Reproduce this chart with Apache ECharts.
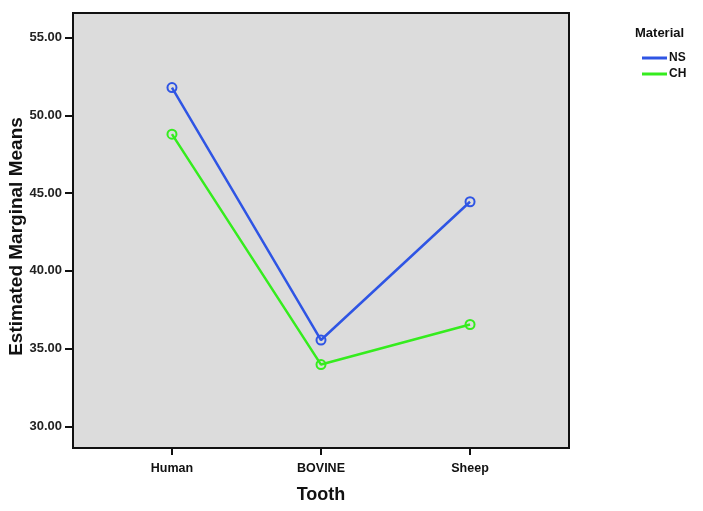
<!DOCTYPE html>
<html>
<head>
<meta charset="utf-8">
<script src="https://cdn.jsdelivr.net/npm/echarts@6/dist/echarts.min.js"></script>
<style>html,body{margin:0;padding:0;background:#fff}#c{width:703px;height:511px}</style>
</head>
<body>
<div id="c"></div>
<script>
const categories = ['Human', 'BOVINE', 'Sheep'];
const nsValues = [51.8, 35.55, 44.45];
const chValues = [48.8, 33.97, 36.55];
const yTicks = [30, 35, 40, 45, 50, 55];
const seriesNames = ['NS', 'CH'];
const legendTitle = 'Material';
const xTitle = 'Tooth';
const yTitle = 'Estimated Marginal Means';

const colors = ['#2f55e4', '#35ec1e'];
const toPts = arr => arr.map((v, i) => [i + 1, v]);
const font = 'Liberation Sans, Arial, sans-serif';

const chart = echarts.init(document.getElementById('c'), null, {renderer: 'canvas'});
chart.setOption({
  animation: false,
  backgroundColor: '#fff',
  title: {
    text: legendTitle, left: 630, top: 22,
    textStyle: {fontFamily: font, fontSize: 13, fontWeight: 'bold', color: '#111'}
  },
  legend: {
    data: seriesNames.map((n, i) => ({name: n, itemStyle: {color: colors[i], borderWidth: 0}})),
    orient: 'vertical', left: 637, top: 47,
    icon: 'rect', itemWidth: 25, itemHeight: 3, itemGap: 4,
    textStyle: {fontFamily: font, fontSize: 12, fontWeight: 'bold', color: '#111', padding: [0, 0, 0, -3]}
  },
  grid: {
    left: 73, right: 134, top: 13, bottom: 63,
    outerBoundsMode: 'none', containLabel: false,
    show: true, backgroundColor: '#dcdcdc', borderColor: '#111', borderWidth: 2
  },
  xAxis: {
    type: 'value', min: 0.336, max: 3.664,
    name: xTitle, nameLocation: 'middle', nameGap: 38, nameMoveOverlap: false,
    nameTextStyle: {fontFamily: font, fontSize: 18, fontWeight: 'bold', color: '#111'},
    axisLine: {show: true, lineStyle: {color: '#111', width: 2}},
    axisTick: {show: true, length: 7, lineStyle: {color: '#111', width: 2}, customValues: [1, 2, 3]},
    axisLabel: {
      customValues: [1, 2, 3], margin: 14,
      formatter: v => categories[Math.round(v) - 1] || '',
      fontFamily: font, fontSize: 12.5, fontWeight: 'bold', color: '#111'
    },
    splitLine: {show: false}
  },
  yAxis: {
    type: 'value', min: 28.6, max: 56.6,
    name: yTitle, nameLocation: 'middle', nameGap: 47, nameMoveOverlap: false,
    nameTextStyle: {fontFamily: font, fontSize: 19, fontWeight: 'bold', color: '#111', padding: [0, 12, 0, 0]},
    axisLine: {show: true, lineStyle: {color: '#111', width: 2}},
    axisTick: {show: true, length: 8, lineStyle: {color: '#111', width: 2}, customValues: yTicks},
    axisLabel: {
      customValues: yTicks, margin: 11,
      formatter: v => v.toFixed(2),
      fontFamily: font, fontSize: 13, fontWeight: 'bold', color: '#222'
    },
    splitLine: {show: false}
  },
  series: [
    {
      name: seriesNames[0], type: 'line', data: toPts(nsValues),
      symbol: 'circle', symbolSize: 9, color: colors[0],
      lineStyle: {width: 2.5, color: colors[0]},
      itemStyle: {color: 'rgba(0,0,0,0)', borderColor: colors[0], borderWidth: 2}
    },
    {
      name: seriesNames[1], type: 'line', data: toPts(chValues),
      symbol: 'circle', symbolSize: 9, color: colors[1],
      lineStyle: {width: 2.5, color: colors[1]},
      itemStyle: {color: 'rgba(0,0,0,0)', borderColor: colors[1], borderWidth: 2}
    }
  ]
});
</script>
</body>
</html>
